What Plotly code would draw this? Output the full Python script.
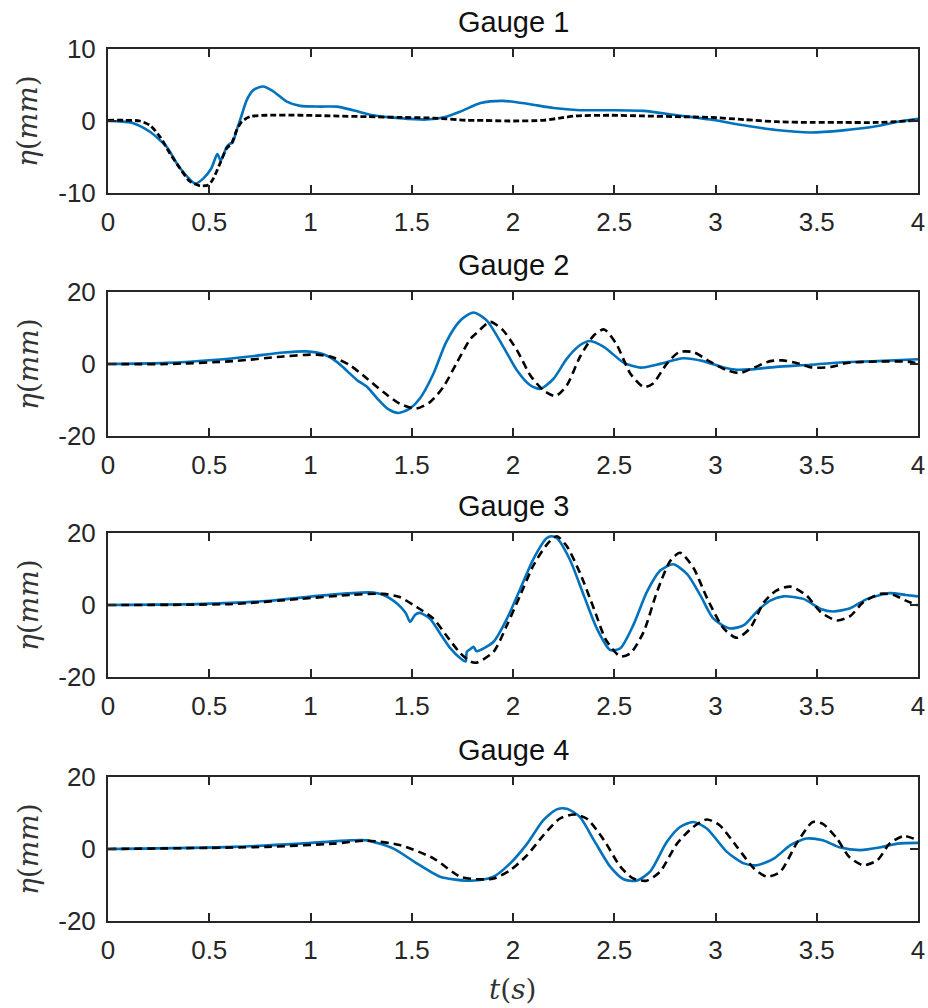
import plotly.graph_objects as go

# ---------------- data ----------------
titles = ["Gauge 1", "Gauge 2", "Gauge 3", "Gauge 4"]
x_ticks = [0, 0.5, 1, 1.5, 2, 2.5, 3, 3.5, 4]
x_tick_text = ["0", "0.5", "1", "1.5", "2", "2.5", "3", "3.5", "4"]
y_ticks_g1 = [-10, 0, 10]
y_text_g1 = ["-10", "0", "10"]
y_ticks_g234 = [-20, 0, 20]
y_text_g234 = ["-20", "0", "20"]

# Gauge 1 - numerical (blue)
g1_num_t = [0, 0.06, 0.125, 0.207, 0.29, 0.34, 0.39, 0.43, 0.47, 0.51, 0.54, 0.557, 0.586,
            0.60, 0.615, 0.635, 0.66, 0.685, 0.718, 0.767, 0.817, 0.883, 0.949, 1.047, 1.13,
            1.21, 1.31, 1.44, 1.57, 1.67, 1.74, 1.84, 1.95, 2.07, 2.20, 2.33, 2.48, 2.645,
            2.81, 2.975, 3.14, 3.30, 3.47, 3.63, 3.80, 3.90, 4.0]
g1_num_eta = [0, -0.05, -0.3, -1.5, -3.6, -5.9, -7.7, -8.7, -8.0, -6.6, -4.6, -5.5, -3.6,
              -3.2, -3.0, -1.3, 0.8, 2.9, 4.3, 4.8, 4.1, 2.7, 2.1, 2.0, 2.0,
              1.5, 0.8, 0.4, 0.2, 0.6, 1.3, 2.5, 2.8, 2.4, 1.8, 1.5, 1.5, 1.4,
              0.8, 0.2, -0.6, -1.25, -1.6, -1.3, -0.7, -0.1, 0.3]
# Gauge 1 - experiment (black dashed)
g1_exp_t = [0, 0.08, 0.157, 0.207, 0.257, 0.306, 0.356, 0.405, 0.455, 0.496, 0.52, 0.553,
            0.586, 0.61, 0.636, 0.66, 0.701, 0.784, 0.949, 1.114, 1.28, 1.44, 1.61, 1.77,
            1.82, 1.986, 2.15, 2.23, 2.31, 2.48, 2.645, 2.81, 2.975, 3.14, 3.30, 3.47,
            3.63, 3.80, 4.0]
g1_exp_eta = [0.1, 0.1, 0, -0.6, -2.2, -4.5, -6.6, -8.4, -9.0, -8.9, -8.0, -5.9,
              -3.8, -3.1, -1.25, -0.1, 0.6, 0.8, 0.8, 0.7, 0.6, 0.5, 0.4, 0.1,
              0.1, 0, 0.1, 0.4, 0.7, 0.8, 0.7, 0.6, 0.5, 0.2, -0.1, -0.2,
              -0.2, -0.2, 0.1]

# Gauge 2
g2_num_t = [0, 0.29, 0.536, 0.70, 0.866, 0.98, 1.064, 1.13, 1.18, 1.23, 1.28, 1.33, 1.38,
            1.434, 1.49, 1.54, 1.607, 1.67, 1.74, 1.805, 1.87, 1.953, 2.02, 2.085, 2.135,
            2.20, 2.266, 2.33, 2.38, 2.45, 2.546, 2.63, 2.73, 2.84, 2.94, 3.04, 3.106,
            3.17, 3.30, 3.47, 3.63, 3.80, 4.0]
g2_num_eta = [0, 0.3, 1.2, 2.1, 3.2, 3.5, 2.7, 0.6, -1.9, -4.5, -6.4, -9.6, -12.4,
              -13.6, -12.4, -9.6, -2.7, 6.1, 12.1, 14.3, 12.1, 4.7, -1.8, -5.9, -6.9,
              -4.1, 1.5, 5.2, 6.4, 4.7, 0.4, -1.0, 0.1, 1.6, 0.8, -1.0, -1.6,
              -1.5, -0.8, -0.2, 0.5, 0.8, 1.3]
g2_exp_t = [0, 0.29, 0.62, 0.866, 1.03, 1.113, 1.196, 1.28, 1.36, 1.44, 1.52, 1.59, 1.656,
            1.72, 1.79, 1.82, 1.887, 1.95, 2.02, 2.085, 2.15, 2.21, 2.266, 2.33, 2.40,
            2.45, 2.51, 2.58, 2.645, 2.69, 2.76, 2.82, 2.89, 2.975, 3.06, 3.12, 3.19,
            3.27, 3.33, 3.40, 3.48, 3.57, 3.65, 3.80, 3.96, 4.0]
g2_exp_eta = [0, 0, 0.8, 2.1, 2.6, 1.8, -0.4, -4.1, -7.8, -11.0, -12.4, -10.6, -6.4,
              0.1, 7.0, 8.6, 11.7, 9.4, 3.8, -3.1, -7.3, -8.9, -5.9, 1.9, 8.0,
              9.6, 5.6, -2.7, -6.4, -5.5, 0.1, 3.3, 3.3, 0.6, -1.8, -2.5, -1.0,
              0.8, 1.0, 0.3, -1.0, -0.8, 0.3, 0.7, 0.6, 0.1]

# Gauge 3
g3_num_t = [0, 0.47, 0.80, 1.05, 1.29, 1.36, 1.43, 1.47, 1.492, 1.517, 1.54, 1.59, 1.64,
            1.69, 1.74, 1.766, 1.772, 1.79, 1.805, 1.82, 1.904, 1.97, 2.035, 2.10, 2.167,
            2.19, 2.216, 2.28, 2.35, 2.414, 2.48, 2.53, 2.594, 2.66, 2.726, 2.79, 2.86,
            2.926, 2.99, 3.07, 3.14, 3.21, 3.27, 3.336, 3.434, 3.52, 3.58, 3.665, 3.75,
            3.86, 3.94, 4.0]
g3_num_eta = [0, 0.3, 1.2, 2.6, 3.5, 2.8, 0.3, -2.2, -4.7, -2.7, -2.2, -3.8, -7.9,
              -12.0, -14.8, -15.7, -13.0, -12.2, -11.6, -12.8, -10.2, -3.8, 4.4, 12.7, 18.6,
              19.1, 18.6, 12.7, 2.6, -6.5, -12.5, -12.0, -5.6, 3.5, 9.5, 11.3, 8.6,
              2.6, -3.8, -6.5, -5.6, -1.5, 1.2, 2.4, 1.7, -1.1, -1.8, -0.9, 1.7,
              3.3, 2.8, 2.4]
g3_exp_t = [0, 0.62, 0.95, 1.196, 1.36, 1.44, 1.525, 1.607, 1.67, 1.74, 1.79, 1.82, 1.904,
            1.97, 2.035, 2.10, 2.167, 2.216, 2.266, 2.33, 2.40, 2.46, 2.53, 2.58, 2.645,
            2.71, 2.776, 2.825, 2.89, 2.96, 3.04, 3.106, 3.17, 3.24, 3.30, 3.37, 3.45,
            3.52, 3.60, 3.665, 3.73, 3.814, 3.88, 3.94, 4.0]
g3_exp_eta = [0, 0.3, 1.7, 2.8, 3.1, 2.2, -0.6, -3.8, -8.4, -13.4, -15.7, -16.0, -13.0,
              -5.6, 2.6, 10.9, 16.8, 19.1, 16.3, 9.0, -1.1, -9.8, -14.3, -13.4, -7.5,
              3.5, 12.2, 14.5, 10.4, 1.7, -6.5, -9.1, -6.5, 0.8, 4.0, 5.1, 2.6,
              -2.0, -4.3, -3.1, 0.8, 3.1, 2.8, 1.2, -0.1]

# Gauge 4
g4_num_t = [0, 0.62, 0.95, 1.196, 1.28, 1.41, 1.525, 1.64, 1.77, 1.838, 1.904, 1.986, 2.07,
            2.15, 2.216, 2.266, 2.33, 2.40, 2.48, 2.546, 2.61, 2.677, 2.76, 2.825, 2.89,
            2.957, 3.056, 3.14, 3.205, 3.29, 3.37, 3.45, 3.53, 3.616, 3.715, 3.81, 3.90,
            4.0]
g4_num_eta = [0, 0.6, 1.5, 2.4, 2.4, 0.1, -4.0, -7.7, -8.8, -8.6, -7.7, -4.0, 1.5,
              8.0, 11.0, 11.2, 8.9, 2.4, -4.9, -8.4, -8.8, -6.3, 2.0, 6.1, 7.5,
              5.7, -0.8, -4.0, -4.5, -2.6, 1.1, 2.9, 2.4, 0.4, -0.3, 0.4, 1.5,
              1.7]
g4_exp_t = [0, 0.78, 1.114, 1.28, 1.44, 1.607, 1.739, 1.82, 1.904, 1.986, 2.07, 2.15, 2.23,
            2.30, 2.365, 2.45, 2.53, 2.594, 2.66, 2.726, 2.81, 2.89, 2.957, 3.02, 3.106,
            3.19, 3.254, 3.32, 3.40, 3.48, 3.53, 3.60, 3.66, 3.73, 3.80, 3.86, 3.93,
            4.0]
g4_exp_eta = [0, 0.6, 1.5, 2.3, 1.1, -2.6, -7.7, -8.4, -8.2, -5.9, -1.7, 3.8, 8.4,
              9.6, 8.4, 2.4, -4.9, -8.2, -8.8, -6.3, 1.5, 6.1, 8.2, 6.6, 0.6,
              -5.4, -7.7, -6.3, 1.5, 7.5, 7.0, 2.9, -2.2, -4.5, -3.1, 1.5, 3.6,
              2.4]

num_series = [(g1_num_t, g1_num_eta), (g2_num_t, g2_num_eta),
              (g3_num_t, g3_num_eta), (g4_num_t, g4_num_eta)]
exp_series = [(g1_exp_t, g1_exp_eta), (g2_exp_t, g2_exp_eta),
              (g3_exp_t, g3_exp_eta), (g4_exp_t, g4_exp_eta)]
y_ranges = [[-10, 10], [-20, 20], [-20, 20], [-20, 20]]
y_tick_sets = [y_ticks_g1, y_ticks_g234, y_ticks_g234, y_ticks_g234]
y_text_sets = [y_text_g1, y_text_g234, y_text_g234, y_text_g234]

# ---------------- layout geometry ----------------
W, H = 928, 1008
ML, MR, MT, MB = 108, 10, 49, 87
plot_h = H - MT - MB
box_px = [(49, 193), (292, 436), (533, 677), (777, 921)]  # top, bottom in pixels


def frac(ypix):
    return (H - MB - ypix) / plot_h


AX = "#262626"
tick_font = dict(family="Liberation Sans, Arial, sans-serif", size=26, color=AX)
blue = "#0072BD"

fig = go.Figure()
annotations = []
for i in range(4):
    sfx = "" if i == 0 else str(i + 1)
    xa, ya = "x" + sfx, "y" + sfx
    ex_t, ex_v = exp_series[i]
    nu_t, nu_v = num_series[i]
    dash = "6px,3px" if i == 0 else "8px,5px"
    fig.add_trace(go.Scatter(x=nu_t, y=nu_v, mode="lines", xaxis=xa, yaxis=ya,
                             line=dict(color=blue, width=2.6, shape="spline", smoothing=0.7),
                             showlegend=False))
    fig.add_trace(go.Scatter(x=ex_t, y=ex_v, mode="lines", xaxis=xa, yaxis=ya,
                             line=dict(color="black", width=2.8 if i == 0 else 2.6, dash=dash,
                                       shape="spline", smoothing=0.7),
                             showlegend=False))
    top, bot = box_px[i]
    dom = [frac(bot), frac(top)]
    fig.layout["xaxis" + sfx] = dict(
        domain=[0, 1], range=[0, 4], anchor=ya, tickvals=x_ticks, ticktext=x_tick_text,
        ticks="inside", ticklen=8, tickwidth=2, tickcolor=AX, showline=True,
        linecolor=AX, linewidth=2, mirror="ticks", showgrid=False, zeroline=False,
        tickfont=tick_font, ticklabelstandoff=5, automargin=False,
        ticklabeloverflow="allow")
    fig.layout["yaxis" + sfx] = dict(
        domain=dom, range=y_ranges[i], anchor=xa, tickvals=y_tick_sets[i],
        ticktext=y_text_sets[i],
        ticks="inside", ticklen=8, tickwidth=2, tickcolor=AX, showline=True,
        linecolor=AX, linewidth=2, mirror="ticks", showgrid=False, zeroline=False,
        tickfont=tick_font, ticklabelstandoff=5, automargin=False,
        ticklabeloverflow="allow")
    annotations.append(dict(text=titles[i], xref="paper", yref="paper", x=0.5, y=dom[1],
                            xanchor="center", yanchor="middle", yshift=27, showarrow=False,
                            font=dict(family="Liberation Sans, Arial, sans-serif", size=29,
                                      color="#111111")))
    annotations.append(dict(text="<i>η</i>(<i>mm</i>)", xref="paper", yref="paper",
                            x=(28 - ML) / (W - ML - MR), y=(dom[0] + dom[1]) / 2,
                            xanchor="center", yanchor="middle", textangle=-90,
                            showarrow=False,
                            font=dict(family="DejaVu Serif, serif", size=28, color="#333333")))

annotations.append(dict(text="<i>t</i>(<i>s</i>)", xref="paper", yref="paper", x=0.5, y=0,
                        xanchor="center", yanchor="middle", yshift=-68, showarrow=False,
                        font=dict(family="DejaVu Serif, serif", size=28, color="#333333")))

fig.update_layout(width=W, height=H, margin=dict(l=ML, r=MR, t=MT, b=MB, autoexpand=False),
                  paper_bgcolor="white", plot_bgcolor="white",
                  annotations=annotations, showlegend=False)

fig.write_html("out.html", config={"displayModeBar": False},
               post_script="document.body.style.margin='0px';"
                           "document.documentElement.style.overflow='hidden';")
